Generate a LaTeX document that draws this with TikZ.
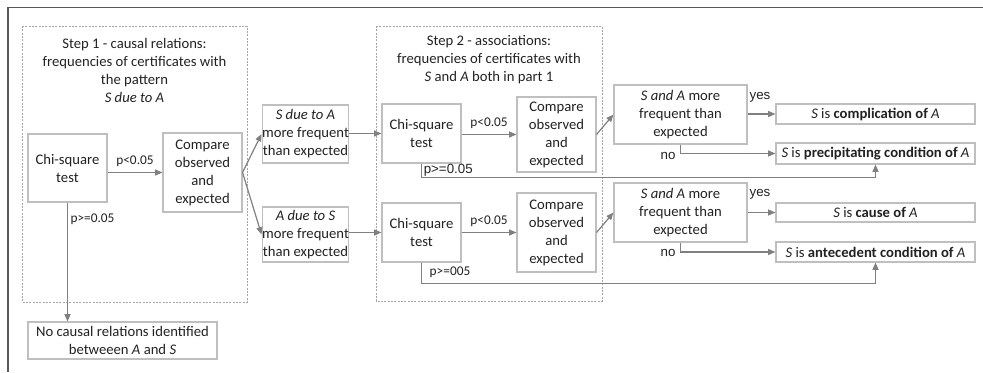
\documentclass[tikz,border=0pt]{standalone}
\usepackage{fontspec}
\setmainfont{Carlito}
\newfontfamily\arialf{Liberation Sans}
\usetikzlibrary{arrows.meta}
\definecolor{boxc}{HTML}{BFBFBF}
\definecolor{arrc}{HTML}{808080}
\definecolor{dashc}{HTML}{A6A6A6}
\definecolor{txtc}{HTML}{222222}
\definecolor{framec}{HTML}{595959}
\begin{document}
\begin{tikzpicture}[x=0.75pt,y=-0.75pt,
  every node/.style={text=txtc,font=\fontsize{11}{13.5}\selectfont},
  box/.style={draw=boxc,line width=0.8pt,fill=white,inner sep=0pt,align=center},
  arr/.style={draw=arrc,line width=0.9pt,-{Triangle[length=5.5pt,width=4.5pt]}},
  plain/.style={draw=arrc,line width=0.9pt},
  dashbox/.style={draw=dashc,line width=0.5pt,dash pattern=on 1.5pt off 1pt},
  lbl/.style={inner sep=0pt,font=\fontsize{10}{12}\selectfont},
  albl/.style={inner sep=0pt,font=\arialf\fontsize{10}{12}\selectfont}]
\useasboundingbox (0,0) rectangle (983,372);
% outer frame
\draw[framec,line width=1.1pt] (983,7.5) -- (8,7.5) -- (8,372);
% dashed step boxes
\draw[dashbox] (22,26) rectangle (247,302);
\draw[dashbox] (376,26) rectangle (602,301);
\node[align=center,inner sep=0pt] (t1) at (134.5,70) {Step 1 - causal relations:\\frequencies of certificates with\\the pattern\\\textit{S due to A}};
\node[align=center,inner sep=0pt] (t2) at (489,60) {Step 2 - associations:\\frequencies of certificates with\\\textit{S} and \textit{A} both in part 1};
% step 1
\node[box,minimum width=59.25pt,minimum height=51pt] (chi1) at (67.5,168) {Chi-square\\test};
\node[box,minimum width=59.25pt,minimum height=59.25pt] (cmp1) at (202.5,172.5) {Compare\\observed\\and\\expected};
\node[box,minimum width=141.75pt,minimum height=27.75pt] (noc) at (122.5,340.5) {No causal relations identified\\betweeen \textit{A} and \textit{S}};
\node[box,minimum width=62.25pt,minimum height=43.5pt] (sda) at (305.5,134) {\textit{S due to A}\\more frequent\\than expected};
\node[box,minimum width=62.25pt,minimum height=41.25pt] (ads) at (305.5,234.5) {\textit{A due to S}\\more frequent\\than expected};
% step 2
\node[box,minimum width=59.25pt,minimum height=44.25pt] (chi2a) at (421.5,133.5) {Chi-square\\test};
\node[box,minimum width=59.25pt,minimum height=56.25pt] (cmp2a) at (556.5,134.5) {Compare\\observed\\and\\expected};
\node[box,minimum width=59.25pt,minimum height=44.25pt] (chi2b) at (421.5,232.5) {Chi-square\\test};
\node[box,minimum width=59.25pt,minimum height=59.25pt] (cmp2b) at (556.5,232.5) {Compare\\observed\\and\\expected};
\node[box,minimum width=99.75pt,minimum height=44.25pt] (sa1) at (680.5,114.5) {\textit{S and A} more\\frequent than\\expected};
\node[box,minimum width=99.75pt,minimum height=44.25pt] (sa2) at (680.5,212.5) {\textit{S and A} more\\frequent than\\expected};
\node[box,minimum width=149.25pt,minimum height=15pt] (comp) at (875.5,114) {\textit{S} is \textbf{complication of} \textit{A}};
\node[box,minimum width=149.25pt,minimum height=15.75pt] (prec) at (875.5,153.5) {\textit{S} is \textbf{precipitating condition of} \textit{A}};
\node[box,minimum width=149.25pt,minimum height=14.25pt] (cause) at (875.5,212.5) {\textit{S} is \textbf{cause of} \textit{A}};
\node[box,minimum width=149.25pt,minimum height=15pt] (ante) at (875.5,252) {\textit{S} is \textbf{antecedent condition of} \textit{A}};
% connectors step 1
\draw[arr] (chi1.east |- cmp1.west) -- node[lbl,above=4pt] (l1) {p<0.05} (cmp1.west);
\draw[arr] (chi1.south) -- (chi1.south |- noc.north);
\node[lbl] (l2) at (92.5,219) {p>=0.05};
\draw[arr] (cmp1.east) -- (sda.west);
\draw[arr] (cmp1.east) -- (ads.west);
\draw[arr] (sda.east |- chi2a.west) -- (chi2a.west);
\draw[arr] (ads.east |- chi2b.west) -- (chi2b.west);
% step 2
\draw[arr] (chi2a.east |- cmp2a.west) -- node[lbl,above=4pt] (l3) {p<0.05} (cmp2a.west);
\draw[arr] (chi2b.east |- cmp2b.west) -- node[lbl,above=4pt] (l4) {p<0.05} (cmp2b.west);
\draw[arr] (cmp2a.east) -- (sa1.west);
\draw[arr] (cmp2b.east) -- (sa2.west);
\draw[arr] (chi2a.south) -- ++(0,14) -| (prec.south);
\node[albl,anchor=west] (l5) at (423.5,170) {p>=0.05};
\draw[arr] (chi2b.south) -- ++(0,21) -| (ante.south);
\node[lbl] (l6) at (450,272.5) {p>=005};
% outcomes
\draw[arr] (sa1.east |- comp.west) -- (comp.west);
\node[albl] (y1) at (760,97) {yes};
\draw[arr] (sa1.south) |- (prec.west);
\node[albl] (n1) at (668,156) {no};
\draw[arr] (sa2.east |- cause.west) -- (cause.west);
\node[albl] (y2) at (760,194) {yes};
\draw[arr] (sa2.south) |- (ante.west);
\node[albl] (n2) at (668,253) {no};
\end{tikzpicture}
\end{document}
